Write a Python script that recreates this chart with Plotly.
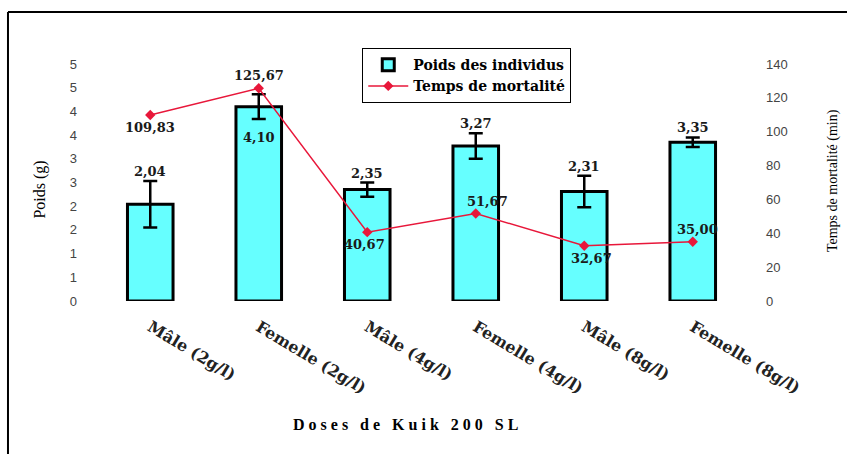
import plotly.graph_objects as go

# Treatments (doses of Kuik 200 SL, by sex)
categories = ["Mâle (2g/l)", "Femelle (2g/l)", "Mâle (4g/l)",
              "Femelle (4g/l)", "Mâle (8g/l)", "Femelle (8g/l)"]
# Mean body weight (g) and its standard error
poids = [2.04, 4.10, 2.35, 3.27, 2.31, 3.35]
poids_err = [0.49, 0.26, 0.15, 0.27, 0.33, 0.10]
# Mean time to death (min)
temps = [109.83, 125.67, 40.67, 51.67, 32.67, 35.00]

# Left axis ticks (0 to 5 by 0.5, shown rounded to integers)
left_tickvals = [0, 0.5, 1, 1.5, 2, 2.5, 3, 3.5, 4, 4.5, 5]
left_ticktext = ["0", "1", "1", "2", "2", "3", "3", "4", "4", "5", "5"]
right_tickvals = [0, 20, 40, 60, 80, 100, 120, 140]

# Label placement: +1 above the mark, -1 below it
poids_label_side = [1, -1, 1, 1, 1, 1]
temps_label_side = [-1, 1, -1, 1, -1, 1]
temps_label_dx = [0, 0, -3, 12, 7, 5]

SERIF = "Liberation Serif, Times New Roman, serif"
WIDE_SERIF = "DejaVu Serif, serif"
SANS = "Liberation Sans, Arial, sans-serif"


def fmt(v):
    return f"{v:.2f}".replace(".", ",")


fig = go.Figure()

fig.add_trace(go.Bar(
    x=categories, y=poids, name="Poids des individus",
    width=0.42,
    marker=dict(color="#66FFFF", line=dict(color="black", width=3)),
    error_y=dict(type="data", array=poids_err, visible=True,
                 color="black", thickness=2.5, width=7),
    yaxis="y",
))

fig.add_trace(go.Scatter(
    x=categories, y=temps, name="Temps de mortalité",
    mode="lines+markers",
    line=dict(color="#E8173A", width=1.5),
    marker=dict(symbol="diamond", size=8, color="#E8173A"),
    yaxis="y2",
))

annotations = []
label_font = dict(family=WIDE_SERIF, size=13, color="#1a1a1a", weight="bold")
for c, v, e, s in zip(categories, poids, poids_err, poids_label_side):
    if s > 0:
        annotations.append(dict(x=c, y=v + e, xref="x", yref="y", text=fmt(v),
                                showarrow=False, yanchor="bottom", yshift=0, font=label_font))
    else:
        annotations.append(dict(x=c, y=v - e, xref="x", yref="y", text=fmt(v),
                                showarrow=False, yanchor="top", yshift=-9, font=label_font))
for c, v, s, dx in zip(categories, temps, temps_label_side, temps_label_dx):
    annotations.append(dict(x=c, y=v, xref="x", yref="y2", text=fmt(v),
                            showarrow=False, yanchor="bottom" if s > 0 else "top",
                            yshift=3 if s > 0 else -3, xshift=dx, font=label_font))

# Axis titles and x-axis caption
annotations += [
    dict(text="Poids (g)", xref="paper", yref="paper", x=-0.086, y=0.47,
         xanchor="center", yanchor="middle",
         showarrow=False, textangle=-90, font=dict(family=SERIF, size=16, color="black")),
    dict(text="Temps de mortalité (min)", xref="paper", yref="paper", x=1.132, y=0.51,
         xanchor="center", yanchor="middle",
         showarrow=False, textangle=-90, font=dict(family=SERIF, size=14, color="black")),
    dict(text="<b>D o s e s   d e   K u i k   2 0 0   S L</b>", xref="paper", yref="paper",
         x=0.476, y=-0.523, xanchor="center", yanchor="middle",
         showarrow=False, font=dict(family=SERIF, size=16, color="black")),
]

fig.update_layout(
    width=847, height=454,
    margin=dict(l=96, r=100, t=64, b=153),
    paper_bgcolor="white", plot_bgcolor="white",
    showlegend=True,
    legend=dict(x=0.409, y=1.067, xanchor="left", yanchor="top",
                bordercolor="black", borderwidth=1, bgcolor="white",
                font=dict(family=WIDE_SERIF, size=14, color="black", weight="bold"),
                tracegroupgap=0, itemwidth=40),
    xaxis=dict(showline=False, showgrid=False, ticks="", tickangle=31,
               ticklabelstandoff=13,
               tickfont=dict(family=WIDE_SERIF, size=16, color="#222", weight="bold"),
               range=[-0.5, 5.5]),
    yaxis=dict(range=[0, 5], tickvals=left_tickvals, ticktext=left_ticktext,
               showgrid=False, showline=False, zeroline=False, ticks="",
               ticklabelstandoff=18,
               tickfont=dict(family=SANS, size=13, color="#444")),
    yaxis2=dict(range=[0, 140], tickvals=right_tickvals, overlaying="y", side="right",
                showgrid=False, showline=False, zeroline=False, ticks="",
                ticklabelstandoff=18,
                tickfont=dict(family=SANS, size=13, color="#444")),
    annotations=annotations,
    shapes=[
        # outer frame: left and top edges
        dict(type="line", xref="paper", yref="paper", x0=-0.1352, x1=-0.1352,
             y0=1.2194, y1=-0.67, line=dict(color="black", width=2)),
        dict(type="line", xref="paper", yref="paper", x0=-0.1352, x1=1.16,
             y0=1.2194, y1=1.2194, line=dict(color="black", width=2)),
    ],
)

fig.write_html("out.html")
